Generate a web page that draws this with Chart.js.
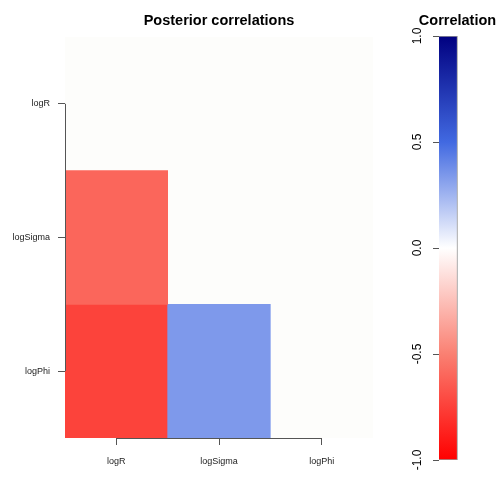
<!DOCTYPE html>
<html>
<head>
<meta charset="utf-8">
<script src="https://cdn.jsdelivr.net/npm/chart.js@4/dist/chart.umd.min.js"></script>
<style>
  html, body { margin: 0; padding: 0; background: #ffffff; }
  #wrap { position: relative; width: 504px; height: 504px; background: #ffffff; }
  #heat { position: absolute; left: 0; top: 0; }
  #bar { position: absolute; left: 400px; top: 0; }
</style>
</head>
<body>
<div id="wrap">
  <canvas id="heat" width="504" height="504"></canvas>
  <canvas id="bar" width="104" height="504"></canvas>
</div>
<script>
// ---- data ----
const params = ['logR', 'logSigma', 'logPhi'];
// lower-triangle posterior correlations, one array per row (columns follow params)
const rowLogSigma = [-0.60, null, null];
const rowLogPhi = [-0.74, 0.34, null];
const colorbarTicks = [-1.0, -0.5, 0.0, 0.5, 1.0];
const colorbarLabels = ['-1.0', '-0.5', '0.0', '0.5', '1.0'];
const mainTitle = 'Posterior correlations';
const legendTitle = 'Correlation';

// colour ramp: red -> salmon -> white -> royalblue -> navy
const rampStops = [
  [-1.0, [255, 0, 0]],
  [-0.5, [250, 128, 114]],
  [0.0, [255, 255, 255]],
  [0.5, [65, 105, 225]],
  [1.0, [0, 0, 128]]
];
function corrColor(v) {
  for (let i = 0; i < rampStops.length - 1; i++) {
    const [a, ca] = rampStops[i];
    const [b, cb] = rampStops[i + 1];
    if (v >= a && v <= b) {
      const t = (v - a) / (b - a);
      const c = ca.map((x, k) => Math.round(x + (cb[k] - x) * t));
      return 'rgb(' + c.join(',') + ')';
    }
  }
  return '#ffffff';
}

const FONT = '"Liberation Sans", Arial, Helvetica, sans-serif';
const AXIS_COLOR = '#555555';

function rowDataset(label, rowIndex, values) {
  return {
    label: label,
    data: values.map(v => (v === null ? null : [rowIndex + 0.5, rowIndex + 1.5])),
    backgroundColor: values.map(v => (v === null ? 'rgba(0,0,0,0)' : corrColor(v))),
    borderWidth: 0,
    grouped: false,
    barPercentage: 1.0,
    categoryPercentage: 1.0
  };
}

const heatPlugin = {
  id: 'heatDecor',
  beforeDatasetsDraw(chart) {
    const { ctx, chartArea } = chart;
    ctx.save();
    ctx.fillStyle = '#fdfdfb';
    ctx.fillRect(chartArea.left, chartArea.top, chartArea.right - chartArea.left, chartArea.bottom - chartArea.top);
    ctx.restore();
  },
  afterDraw(chart) {
    const { ctx, chartArea, scales } = chart;
    const x = scales.x, y = scales.y;
    ctx.save();
    ctx.strokeStyle = AXIS_COLOR;
    ctx.lineWidth = 1;
    // R-style axis lines spanning first to last tick
    const lx = Math.round(chartArea.left) + 0.5;
    ctx.beginPath();
    ctx.moveTo(lx, y.getPixelForValue(1));
    ctx.lineTo(lx, y.getPixelForValue(params.length));
    ctx.stroke();
    const by = Math.round(chartArea.bottom) + 0.5;
    ctx.beginPath();
    ctx.moveTo(x.getPixelForValue(0), by);
    ctx.lineTo(x.getPixelForValue(params.length - 1), by);
    ctx.stroke();
    // title
    ctx.fillStyle = '#000000';
    ctx.font = 'bold 14.5px ' + FONT;
    ctx.textAlign = 'center';
    ctx.textBaseline = 'alphabetic';
    ctx.fillText(mainTitle, (chartArea.left + chartArea.right) / 2, 25);
    ctx.restore();
  }
};

new Chart(document.getElementById('heat'), {
  type: 'bar',
  data: {
    labels: params,
    datasets: [
      rowDataset('logSigma', 1, rowLogSigma),
      rowDataset('logPhi', 2, rowLogPhi)
    ]
  },
  options: {
    responsive: false,
    animation: false,
    devicePixelRatio: 1,
    layout: { padding: { left: 0, right: 131, top: 37, bottom: 0 } },
    plugins: { legend: { display: false }, tooltip: { enabled: false }, title: { display: false } },
    scales: {
      x: {
        type: 'category',
        offset: true,
        afterFit(s) { s.height = 66; },
        border: { display: false },
        grid: { display: true, drawOnChartArea: false, offset: false, tickLength: 7, color: AXIS_COLOR, lineWidth: 1 },
        ticks: { font: { family: FONT, size: 9 }, color: '#222222', padding: 11, maxRotation: 0, minRotation: 0 }
      },
      y: {
        type: 'linear',
        min: 0.5,
        max: params.length + 0.5,
        reverse: true,
        afterFit(s) { s.width = 65; },
        afterBuildTicks(s) { s.ticks = params.map((p, i) => ({ value: i + 1 })); },
        border: { display: false },
        grid: { display: true, drawOnChartArea: false, tickLength: 7, color: AXIS_COLOR, lineWidth: 1 },
        ticks: {
          font: { family: FONT, size: 9 }, color: '#222222', padding: 8,
          callback: (v) => params[Math.round(v) - 1] || ''
        }
      }
    }
  },
  plugins: [heatPlugin]
});

// ---- colour bar ----
const barPlugin = {
  id: 'barDecor',
  afterDraw(chart) {
    const { ctx, chartArea, scales } = chart;
    const y = scales.y;
    ctx.save();
    ctx.fillStyle = '#000000';
    ctx.font = '12px ' + FONT;
    ctx.textAlign = 'center';
    ctx.textBaseline = 'alphabetic';
    colorbarTicks.forEach((v, i) => {
      const py = y.getPixelForValue(v);
      ctx.save();
      ctx.translate(21, py);
      ctx.rotate(-Math.PI / 2);
      ctx.fillText(colorbarLabels[i], 0, 0);
      ctx.restore();
    });
    ctx.font = 'bold 14.5px ' + FONT;
    ctx.fillText(legendTitle, (chartArea.left + chartArea.right) / 2, 25);
    ctx.restore();
  }
};

new Chart(document.getElementById('bar'), {
  type: 'bar',
  data: {
    labels: [legendTitle],
    datasets: [{
      data: [[colorbarTicks[0], colorbarTicks[colorbarTicks.length - 1]]],
      backgroundColor(context) {
        const chart = context.chart;
        const y = chart.scales.y;
        if (!chart.chartArea || !y) return '#ffffff';
        const lo = colorbarTicks[0], hi = colorbarTicks[colorbarTicks.length - 1];
        const g = chart.ctx.createLinearGradient(0, y.getPixelForValue(lo), 0, y.getPixelForValue(hi));
        rampStops.forEach(([v]) => g.addColorStop((v - lo) / (hi - lo), corrColor(v)));
        return g;
      },
      borderColor: '#9a9a9a',
      borderWidth: 1,
      borderSkipped: false,
      barPercentage: 1.0,
      categoryPercentage: 1.0
    }]
  },
  options: {
    responsive: false,
    animation: false,
    devicePixelRatio: 1,
    layout: { padding: { left: 0, right: 28, top: 36, bottom: 44 } },
    plugins: { legend: { display: false }, tooltip: { enabled: false }, title: { display: false } },
    scales: {
      x: { display: false, offset: false },
      y: {
        type: 'linear',
        min: -1,
        max: 1,
        afterFit(s) { s.width = 39; },
        afterBuildTicks(s) { s.ticks = colorbarTicks.map(v => ({ value: v })); },
        border: { display: false },
        grid: { display: true, drawOnChartArea: false, tickLength: 6, color: AXIS_COLOR, lineWidth: 1 },
        ticks: { display: false }
      }
    }
  },
  plugins: [barPlugin]
});
</script>
</body>
</html>
